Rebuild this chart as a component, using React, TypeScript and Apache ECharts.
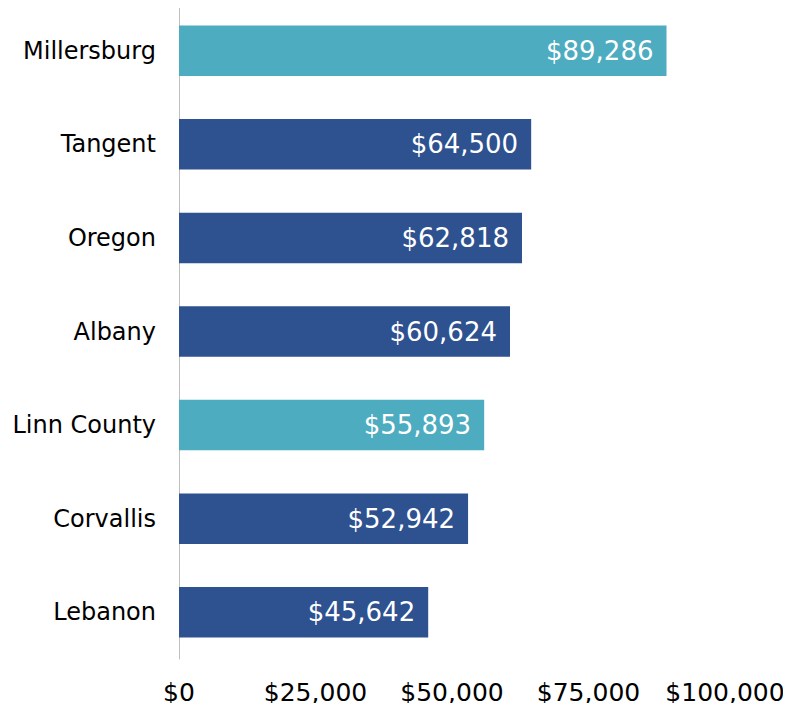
import React, { useEffect, useRef } from "react";
import * as echarts from "echarts";

const categories = ["Millersburg", "Tangent", "Oregon", "Albany", "Linn County", "Corvallis", "Lebanon"];
const values = [89286, 64500, 62818, 60624, 55893, 52942, 45642];
const highlighted = ["Millersburg", "Linn County"];
const xTicks = [0, 25000, 50000, 75000, 100000];

const TEAL = "#4DACBF";
const NAVY = "#2E5190";
const FONT = "DejaVu Sans";

const fmt = (v: number) => "$" + v.toLocaleString("en-US");

export default function App() {
  const ref = useRef<HTMLDivElement>(null);
  useEffect(() => {
    if (!ref.current) return;
    const chart = echarts.init(ref.current, undefined, { renderer: "svg" });
    chart.setOption({
      animation: false,
      grid: {
        left: 179,
        right: 66,
        top: 4,
        bottom: 52,
        containLabel: false,
        outerBoundsMode: "none",
      },
      xAxis: {
        type: "value",
        min: xTicks[0],
        max: xTicks[xTicks.length - 1],
        interval: 25000,
        axisLine: { show: false },
        axisTick: { show: false },
        splitLine: { show: false },
        axisLabel: {
          margin: 21,
          fontFamily: FONT,
          fontSize: 25,
          color: "#000",
          formatter: (v: number) => fmt(v),
        },
      },
      yAxis: {
        type: "category",
        inverse: true,
        data: categories,
        axisLine: { show: true, lineStyle: { color: "#BFBFBF", width: 1 } },
        axisTick: { show: false },
        axisLabel: {
          margin: 23,
          fontFamily: FONT,
          fontSize: 24,
          color: "#000",
        },
      },
      series: [
        {
          type: "bar",
          barWidth: "54%",
          data: values.map((v, i) => ({
            value: v,
            itemStyle: { color: highlighted.includes(categories[i]) ? TEAL : NAVY },
          })),
          label: {
            show: true,
            position: "insideRight",
            distance: 13,
            color: "#fff",
            fontFamily: FONT,
            fontSize: 26,
            formatter: (p: any) => fmt(p.value),
          },
        },
      ],
    });
    return () => chart.dispose();
  }, []);
  return <div ref={ref} style={{ width: 791, height: 711, margin: -8 }} />;
}
